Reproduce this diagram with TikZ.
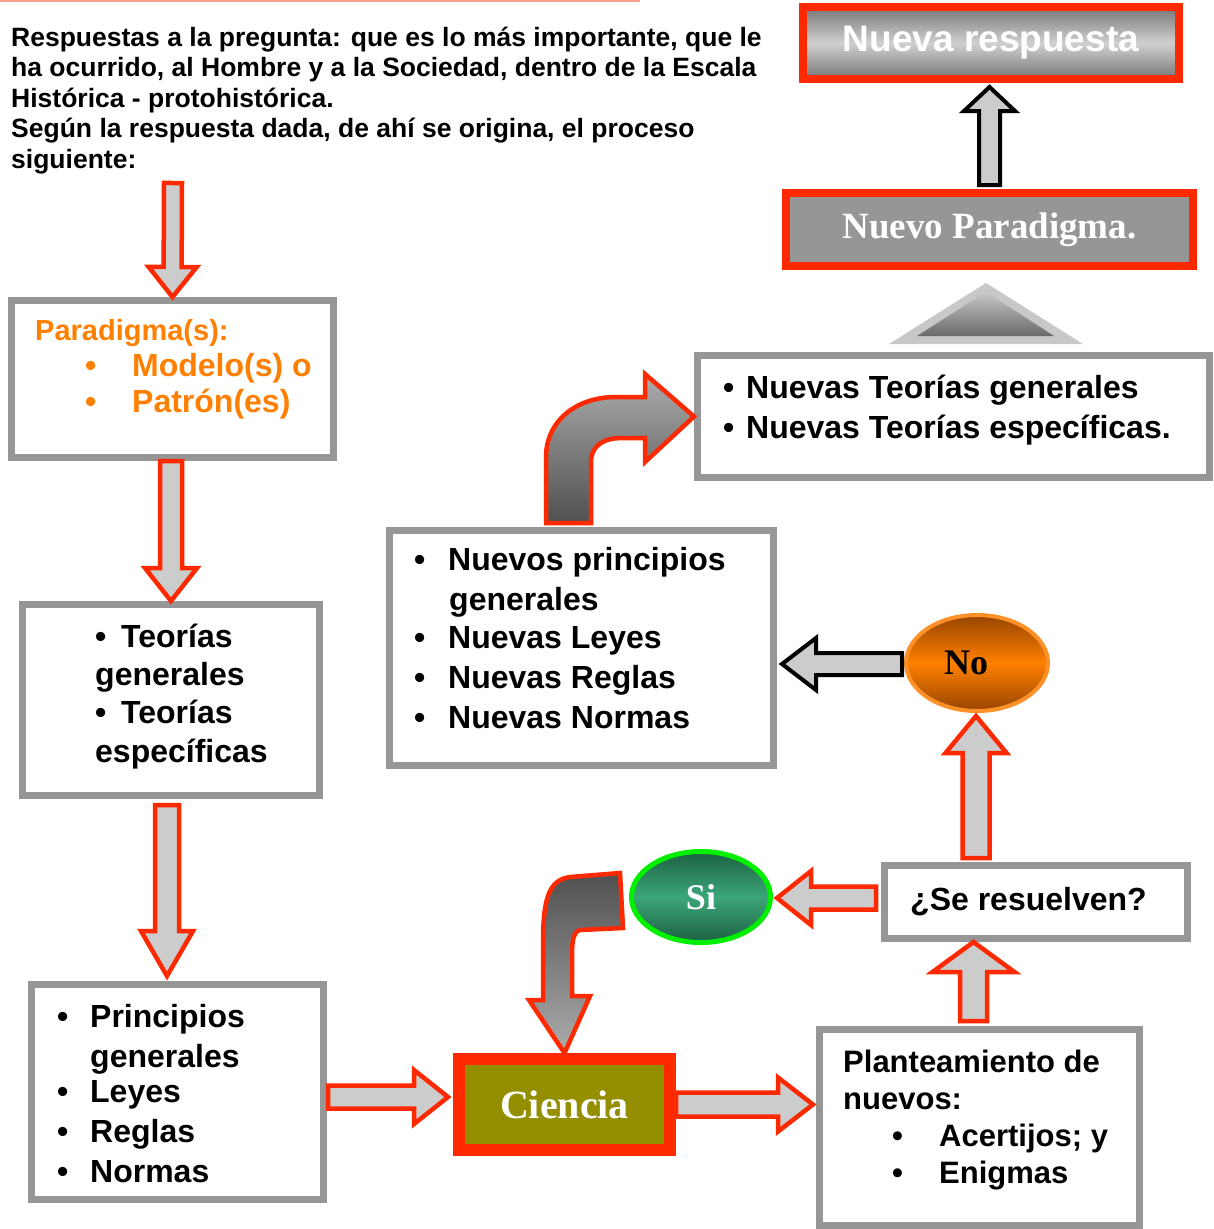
\documentclass[tikz,border=0pt]{standalone}
\usepackage{fontspec}
\setmainfont{Liberation Sans}
\newfontfamily\timesbf{Liberation Serif}
\usepackage{tikz}
\usetikzlibrary{shapes,calc,positioning}
\definecolor{boxgray}{RGB}{150,150,150}
\definecolor{arrred}{RGB}{255,41,0}
\definecolor{arrgray}{RGB}{204,204,204}
\definecolor{paraorange}{RGB}{255,128,0}
\definecolor{cienciaolive}{RGB}{148,143,0}
\definecolor{nobrown}{RGB}{150,68,0}
\definecolor{noorange}{RGB}{255,128,0}
\definecolor{noedge}{RGB}{255,145,40}
\definecolor{sidark}{RGB}{28,96,66}
\definecolor{simid}{RGB}{60,166,122}
\definecolor{siedge}{RGB}{0,240,0}
\definecolor{topline}{RGB}{255,160,140}
\definecolor{nrdark}{RGB}{118,118,118}
\definecolor{nrlight}{RGB}{208,208,208}
\definecolor{bendlight}{RGB}{172,172,172}
\definecolor{benddark}{RGB}{80,80,80}
\definecolor{trilight}{RGB}{200,200,200}
\definecolor{tridark}{RGB}{105,105,105}
\newcommand{\bul}[1]{\makebox[#1][l]{\textbullet}}
% block arrow: style, from, to, shaft half width, head half width, head length
\newcommand{\blockarr}[6]{%
  \path (#2) coordinate (ba-s) (#3) coordinate (ba-e);
  \path ($(ba-e)!#6!(ba-s)$) coordinate (ba-h);
  \draw[#1] ($(ba-s)!#4!90:(ba-e)$) -- ($(ba-h)!#4!90:(ba-e)$)
    -- ($(ba-h)!#5!90:(ba-e)$) -- (ba-e) -- ($(ba-h)!#5!-90:(ba-e)$)
    -- ($(ba-h)!#4!-90:(ba-e)$) -- ($(ba-s)!#4!-90:(ba-e)$) -- cycle;}

\begin{document}
\begin{tikzpicture}[x=1pt, y=-1pt,
    box/.style={draw=boxgray, line width=7pt, fill=white},
    txt/.style={inner sep=0pt, anchor=base west, align=left, font=\fontsize{32}{40}\selectfont\bfseries},
    redbox/.style={draw=arrred, line width=8pt, text=white, font=\fontsize{37}{44}\selectfont\bfseries},
    redarr/.style={draw=arrred, fill=arrgray, line width=4.5pt},
    blkarr/.style={draw=black, fill=arrgray, line width=4pt},
    bendarr/.style={draw=arrred, line width=4.5pt},
    answer/.style={ellipse, font=\fontsize{36}{40}\selectfont\timesbf\bfseries}
]
\useasboundingbox (0,0) rectangle (1213,1229);
\draw[topline, line width=2pt] (0,1) -- (640,1);

% Intro question (anchored at the last baseline)
\node[txt, font=\fontsize{26.5}{30.5}\selectfont\bfseries] (intro) at (11,168) {Respuestas a la pregunta: que es lo más importante, que le\\ha ocurrido, al Hombre y a la Sociedad, dentro de la Escala\\Histórica - protohistórica.\\Según la respuesta dada, de ahí se origina, el proceso\\siguiente:};

% Left column
\node[box, minimum width=322pt, minimum height=157pt] (para) at (172.5,379) {};
\node[txt, text=paraorange, font=\fontsize{32}{36}\selectfont\bfseries] (paratxt) at (35,412) {{\fontsize{29}{36}\selectfont Paradigma(s):}\\\hspace*{50pt}\bul{47pt}Modelo(s) o\\\hspace*{50pt}\bul{47pt}Patrón(es)};

\node[box, minimum width=297pt, minimum height=191pt] (teo) at (171,700) {};
\node[txt, font=\fontsize{32}{38.3}\selectfont\bfseries] (teotxt) at (95,762) {\bul{26pt}Teorías\\generales\\\bul{26pt}Teorías\\específicas};

\node[box, minimum width=292pt, minimum height=215pt] (pri) at (177.5,1092) {};
\node[txt] (pritxt) at (57,1182) {\bul{33pt}Principios\\\hspace*{33pt}generales\\[-5pt]\bul{33pt}Leyes\\\bul{33pt}Reglas\\\bul{33pt}Normas};

% Centre
\node[box, minimum width=384pt, minimum height=235pt] (np) at (581.5,648) {};
\node[txt] (nptxt) at (414,728) {\bul{34pt}Nuevos principios\\\hspace*{35pt}generales\\[-2pt]\bul{34pt}Nuevas Leyes\\\bul{34pt}Nuevas Reglas\\\bul{34pt}Nuevas Normas};

\node[redbox, line width=12pt, fill=cienciaolive, font=\fontsize{40}{48}\selectfont\timesbf\bfseries, minimum width=211pt, minimum height=91pt] (cien) at (564.5,1104.5) {Ciencia};

% Right column
\node[redbox, top color=nrdark, bottom color=nrdark, middle color=nrlight, minimum width=376pt, minimum height=72pt] (nr) at (991,43) {Nueva respuesta};
\node[redbox, fill=boxgray, font=\fontsize{37}{44}\selectfont\timesbf\bfseries, minimum width=407pt, minimum height=73pt] (npd) at (989.5,229.5) {Nuevo Paradigma.};

\fill[trilight] (889,344) -- (986,283) -- (1083,344) -- cycle;
\path[top color=trilight, bottom color=tridark] (917,336) -- (986,292) -- (1054,336) -- cycle;

\node[box, minimum width=512pt, minimum height=122pt] (nt) at (953.5,416.5) {};
\node[txt] (nttxt) at (723,438) {\bul{23pt}Nuevas Teorías generales\\\bul{23pt}Nuevas Teorías específicas.};

\node[answer, draw=noedge, line width=4pt, top color=nobrown, bottom color=nobrown, middle color=noorange, minimum width=142pt, minimum height=96pt] (no) at (977,663) {No\hspace*{22pt}};
\node[answer, draw=siedge, line width=5pt, text=white, top color=sidark, bottom color=sidark, middle color=simid, minimum width=139pt, minimum height=91pt] (si) at (701,897) {Si};

\node[box, minimum width=303pt, minimum height=73pt] (sr) at (1036,902) {};
\node[txt] (srtxt) at (910,910) {¿Se resuelven?};

\node[box, minimum width=320pt, minimum height=196pt] (pl) at (979.5,1127.5) {};
\node[txt, font=\fontsize{31}{36.7}\selectfont\bfseries] (pltxt) at (843,1183) {Planteamiento de\\nuevos:\\\hspace*{49pt}\bul{47pt}Acertijos; y\\\hspace*{49pt}\bul{47pt}Enigmas};

% Straight arrows
\coordinate (introarr) at (173,183);
\blockarr{redarr}{introarr}{para.north}{9pt}{24pt}{30pt}
\blockarr{redarr}{para.south -| teo.north}{teo.north}{11pt}{26pt}{33pt}
\path (teo.south) ++(-4,6) coordinate (c0);
\path (c0 |- pri.north) ++(0,-5) coordinate (c1);
\blockarr{redarr}{c0}{c1}{12pt}{26pt}{45pt}
\path (pri.east) ++(1,5) coordinate (d0);
\path (d0 -| cien.west) ++(-5,0) coordinate (d1);
\blockarr{redarr}{d0}{d1}{11.5pt}{27pt}{34pt}
\path (cien.east -| pl.west) ++(-3,0) coordinate (e1);
\blockarr{redarr}{cien.east}{e1}{12pt}{27pt}{35pt}
\path (pl.north) ++(-6,-5) coordinate (f0);
\blockarr{redarr}{f0}{f0 |- sr.south}{13.5pt}{41pt}{30pt}
\path (sr.west) ++(-5,-4) coordinate (g0);
\path (g0 -| si.east) ++(4,0) coordinate (g1);
\blockarr{redarr}{g0}{g1}{11.5pt}{27pt}{34pt}
\path (no.south |- sr.north) ++(-1,-4) coordinate (h0);
\path (no.south) ++(-1,3) coordinate (h1);
\blockarr{redarr}{h0}{h1}{13.5pt}{30.5pt}{37pt}
\path (no.west) ++(-2,1) coordinate (i0);
\path (i0 -| np.east) ++(5,0) coordinate (i1);
\blockarr{blkarr}{i0}{i1}{11pt}{26pt}{34pt}
\path (npd.north) ++(0,-4) coordinate (j0);
\path (npd.north |- nr.south) ++(0,4) coordinate (j1);
\blockarr{blkarr}{j0}{j1}{10.5pt}{25.5pt}{24pt}

% Bent arrows
\draw[bendarr, top color=bendlight, bottom color=benddark] ($(np.north west)+(160,-4)$) -- (546,457)
  .. controls (546,422) and (575,397) .. (616,397) -- (645,397) -- (645,374) -- (nt.west)
  -- (645,462) -- (645,438) -- (622,438) .. controls (603,438) and (591,446) .. (591,462)
  -- (591,523) -- cycle;
\draw[bendarr, top color=benddark, bottom color=bendlight] ($(si.west)+(-9,-24)$) -- (623,928)
  -- (580,930) .. controls (572,932) and (572,945) .. (572,960) -- (572,996) -- (590,996)
  -- (cien.north) -- (529,1000) -- (543,1000) -- (543,945)
  .. controls (543,900) and (548,880) .. (570,877) -- cycle;

\end{tikzpicture}
\end{document}
